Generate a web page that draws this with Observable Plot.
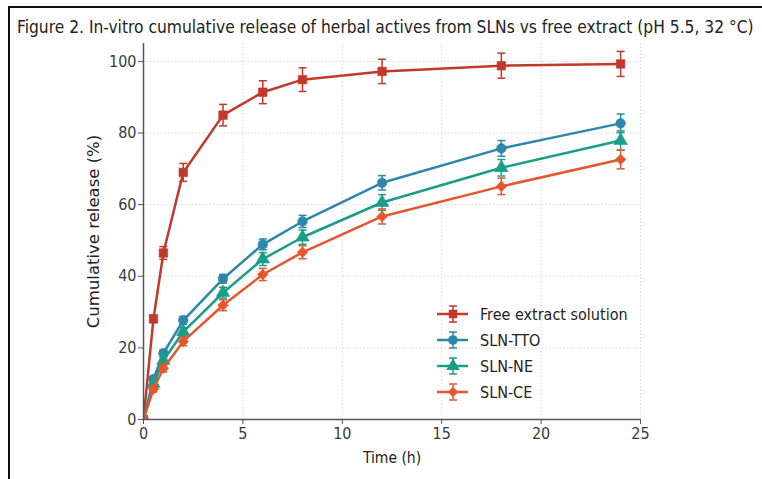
<!DOCTYPE html>
<html>
<head>
<meta charset="utf-8">
<script src="https://cdn.jsdelivr.net/npm/d3@7"></script>
<script src="https://cdn.jsdelivr.net/npm/@observablehq/plot@0.6"></script>
<style>
  html, body { margin: 0; padding: 0; background: #fff; overflow: hidden; }
  #wrap { position: relative; width: 762px; height: 479px; overflow: hidden; background: #fff; }
  #frame { position: absolute; left: 8px; top: 6px; width: 900px; height: 600px;
           border-left: 2px solid #111; border-top: 2px solid #111; box-sizing: border-box; }
  #title { position: absolute; left: 17px; top: 17px; white-space: nowrap;
           font-family: "DejaVu Sans Condensed", "DejaVu Sans", sans-serif; font-size: 17.25px; color: #222; }
  #chart { position: absolute; left: 0; top: 0; }
  #legend { position: absolute; left: 437px; top: 301px;
            font-family: "DejaVu Sans Condensed", "DejaVu Sans", sans-serif; font-size: 16px; color: #222; }
  .row { display: flex; align-items: center; height: 26px; }
  .row svg { display: block; margin-right: 11px; }
</style>
</head>
<body>
<div id="wrap">
  <div id="chart"></div>
  <div id="frame"></div>
  <div id="title"></div>
  <div id="legend"></div>
</div>
<script>
// ---- data ----
const titleText = "Figure 2. In-vitro cumulative release of herbal actives from SLNs vs free extract (pH 5.5, 32 °C)";
const xLabel = "Time (h)";
const yLabel = "Cumulative release (%)";
const xTicks = [0, 5, 10, 15, 20, 25];
const yTicks = [0, 20, 40, 60, 80, 100];

const times  = [0, 0.5, 1, 2, 4, 6, 8, 12, 18, 24];
const seriesNames = ["Free extract solution", "SLN-TTO", "SLN-NE", "SLN-CE"];
const free   = [0, 28.1, 46.5, 69.0, 85.0, 91.4, 94.9, 97.2, 98.8, 99.3];
const freeSD = [0, 1.0, 1.8, 2.5, 3.0, 3.2, 3.3, 3.4, 3.5, 3.5];
const tto    = [0, 11.3, 18.5, 27.7, 39.3, 48.9, 55.3, 66.1, 75.7, 82.7];
const ttoSD  = [0, 0.8, 1.0, 1.1, 1.2, 1.5, 1.7, 2.0, 2.2, 2.6];
const ne     = [0, 10.0, 16.5, 24.5, 35.4, 44.8, 50.9, 60.6, 70.3, 77.9];
const neSD   = [0, 0.8, 1.0, 1.2, 1.5, 1.8, 2.0, 2.2, 2.3, 2.7];
const ce     = [0, 8.5, 14.3, 21.8, 31.9, 40.5, 46.7, 56.7, 65.1, 72.6];
const ceSD   = [0, 0.8, 1.0, 1.2, 1.5, 1.7, 1.8, 2.1, 2.3, 2.6];

const colors  = ["#c0392b", "#2e86ab", "#1a9e88", "#e4572e"];
const symbols = ["square", "circle", "triangle", "diamond2"];
const sizes   = [4.8, 4.8, 5.0, 4.8];
const values  = [free, tto, ne, ce];
const sds     = [freeSD, ttoSD, neSD, ceSD];

// ---- build table ----
const series = seriesNames.map((name, k) => ({
  name, color: colors[k], symbol: symbols[k], r: sizes[k],
  rows: times.map((t, i) => ({ t, v: values[k][i], sd: sds[k][i], lo: values[k][i] - sds[k][i], hi: values[k][i] + sds[k][i] }))
}));

const capSymbol = {
  draw(ctx, size) { const w = Math.sqrt(size / Math.PI); ctx.moveTo(-w, 0); ctx.lineTo(w, 0); }
};

const marks = [
  Plot.gridX(xTicks, { stroke: "#cfcfcf", strokeOpacity: 1, strokeDasharray: "1.5,2", strokeWidth: 0.8 }),
  Plot.gridY(yTicks, { stroke: "#cfcfcf", strokeOpacity: 1, strokeDasharray: "1.5,2", strokeWidth: 0.8 }),
];
for (const s of series) {
  marks.push(
    Plot.line(s.rows, { x: "t", y: "v", stroke: s.color, strokeWidth: 2.5, clip: true }),
    Plot.ruleX(s.rows.filter(d => d.sd > 0), { x: "t", y1: "lo", y2: "hi", stroke: s.color, strokeWidth: 1.5 }),
    Plot.dot(s.rows.filter(d => d.sd > 0), { x: "t", y: "hi", symbol: capSymbol, r: 4, stroke: s.color, strokeWidth: 1.5, fill: "none" }),
    Plot.dot(s.rows.filter(d => d.sd > 0), { x: "t", y: "lo", symbol: capSymbol, r: 4, stroke: s.color, strokeWidth: 1.5, fill: "none" }),
    Plot.dot(s.rows, { x: "t", y: "v", symbol: s.symbol, r: s.r, fill: s.color, stroke: s.color, strokeWidth: 0.6, clip: true })
  );
}
marks.push(
  Plot.ruleX([0], { stroke: "#555", strokeWidth: 1.5 }),
  Plot.ruleY([0], { stroke: "#555", strokeWidth: 1.5 }),
  Plot.axisX({ ticks: xTicks, tickSize: 5, tickPadding: 3, stroke: "#555", fill: "#3a3a3a", fontSize: 16, label: null }),
  Plot.axisY({ ticks: yTicks, tickSize: 5, tickPadding: 2, stroke: "#555", fill: "#3a3a3a", fontSize: 16, label: null }),
  Plot.text([xLabel], { frameAnchor: "bottom", dy: 43, fontSize: 15.5, fill: "#222" }),
  Plot.text([yLabel], { frameAnchor: "left", textAnchor: "middle", dx: -50, rotate: -90, fontSize: 16.5, fill: "#222", fontFamily: "DejaVu Sans" })
);

const chart = Plot.plot({
  width: 762, height: 479,
  marginLeft: 143, marginRight: 122, marginTop: 43, marginBottom: 60,
  x: { domain: [0, 25] },
  y: { domain: [0, 105] },
  style: { fontFamily: "'DejaVu Sans Condensed', 'DejaVu Sans', sans-serif", fontSize: "15px", background: "transparent", overflow: "visible" },
  marks
});
document.getElementById("chart").append(chart);
document.getElementById("title").textContent = titleText;

// ---- legend ----
const legend = d3.select("#legend");
for (const s of series) {
  const row = legend.append("div").attr("class", "row");
  const svg = row.append("svg").attr("width", 32).attr("height", 26);
  svg.append("line").attr("x1", 0).attr("x2", 31).attr("y1", 13).attr("y2", 13).attr("stroke", s.color).attr("stroke-width", 2.5);
  svg.append("line").attr("x1", 16).attr("x2", 16).attr("y1", 5).attr("y2", 21).attr("stroke", s.color).attr("stroke-width", 1.5);
  svg.append("line").attr("x1", 12).attr("x2", 20).attr("y1", 5).attr("y2", 5).attr("stroke", s.color).attr("stroke-width", 1.5);
  svg.append("line").attr("x1", 12).attr("x2", 20).attr("y1", 21).attr("y2", 21).attr("stroke", s.color).attr("stroke-width", 1.5);
  const sym = { square: d3.symbolSquare, circle: d3.symbolCircle, triangle: d3.symbolTriangle, diamond2: d3.symbolDiamond2 }[s.symbol];
  svg.append("path").attr("transform", "translate(16,13)").attr("d", d3.symbol(sym, s.r * s.r * Math.PI)()).attr("fill", s.color);
  row.append("span").text(s.name);
}
</script>
</body>
</html>
